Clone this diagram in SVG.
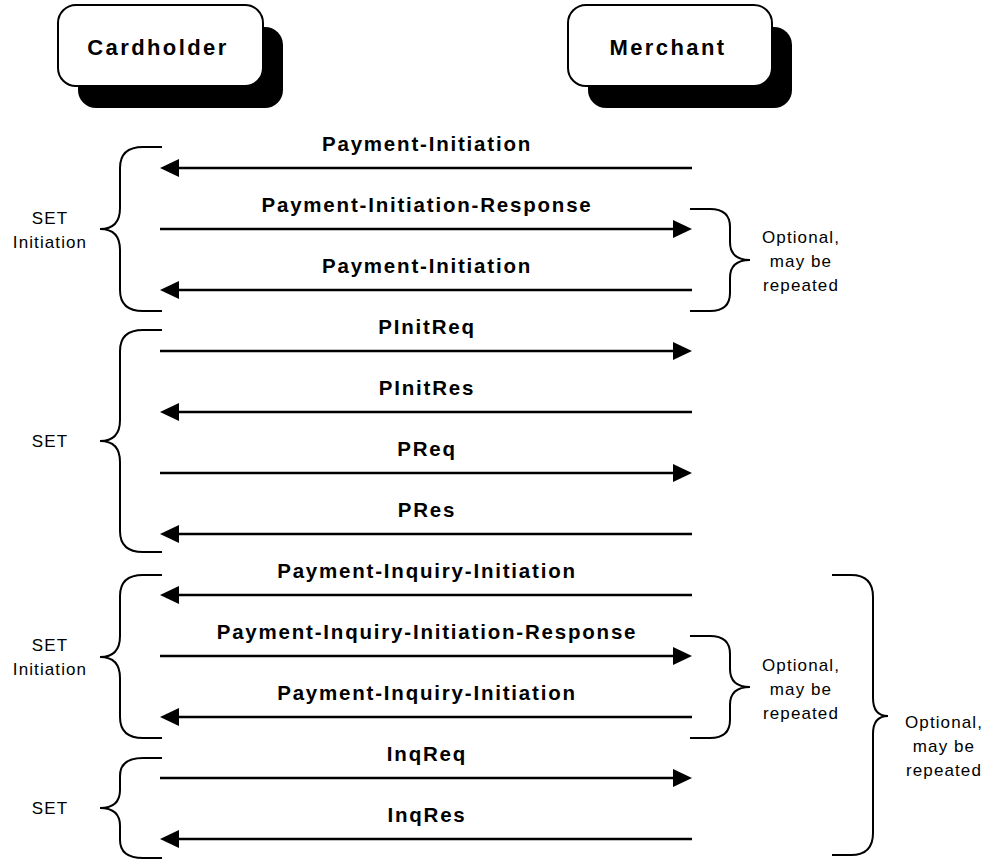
<svg xmlns="http://www.w3.org/2000/svg" width="989" height="861" viewBox="0 0 989 861">
  <style>
    .box { fill: #fff; stroke: #000; stroke-width: 2; }
    .shadow { fill: #000; }
    .actor { font-family: "Liberation Sans", Arial, sans-serif; font-weight: bold; font-size: 22px; letter-spacing: 2.4px; text-anchor: middle; fill: #000; }
    .msg { font-family: "Liberation Sans", Arial, sans-serif; font-weight: bold; font-size: 20.5px; letter-spacing: 1.8px; text-anchor: middle; fill: #000; }
    .note { font-family: "Liberation Sans", Arial, sans-serif; font-size: 17px; letter-spacing: 1.1px; text-anchor: middle; fill: #000; }
    .line { stroke: #000; stroke-width: 2.5; fill: none; marker-end: url(#head); }
    .brace { stroke: #000; stroke-width: 2; fill: none; }
  </style>
  <defs>
    <marker id="head" markerUnits="userSpaceOnUse" markerWidth="19" markerHeight="18" refX="9" refY="9" orient="auto">
      <path d="M0,0 L19,9 L0,18 Z" fill="#000"/>
    </marker>
  </defs>

  <rect width="989" height="861" fill="#fff"/>

  <!-- Participants -->
  <g id="cardholder">
    <rect class="shadow" x="78" y="27" width="205" height="81" rx="18"/>
    <rect class="box" x="58" y="5" width="205" height="81" rx="18"/>
    <text class="actor" x="158" y="55">Cardholder</text>
  </g>
  <g id="merchant">
    <rect class="shadow" x="588" y="27" width="204" height="81" rx="18"/>
    <rect class="box" x="568" y="5" width="204" height="81" rx="18"/>
    <text class="actor" x="668" y="55">Merchant</text>
  </g>

  <!-- Messages -->
  <g id="connectors">
    <line class="line" x1="692" y1="168" x2="170" y2="168"/>
    <line class="line" x1="160" y1="229" x2="682" y2="229"/>
    <line class="line" x1="692" y1="290" x2="170" y2="290"/>
    <line class="line" x1="160" y1="351" x2="682" y2="351"/>
    <line class="line" x1="692" y1="412" x2="170" y2="412"/>
    <line class="line" x1="160" y1="473" x2="682" y2="473"/>
    <line class="line" x1="692" y1="534" x2="170" y2="534"/>
    <line class="line" x1="692" y1="595" x2="170" y2="595"/>
    <line class="line" x1="160" y1="656" x2="682" y2="656"/>
    <line class="line" x1="692" y1="717" x2="170" y2="717"/>
    <line class="line" x1="160" y1="778" x2="682" y2="778"/>
    <line class="line" x1="692" y1="839" x2="170" y2="839"/>
  </g>

  <g id="message-labels">
    <text class="msg" x="427" y="151">Payment-Initiation</text>
    <text class="msg" x="427" y="212">Payment-Initiation-Response</text>
    <text class="msg" x="427" y="273">Payment-Initiation</text>
    <text class="msg" x="427" y="334">PInitReq</text>
    <text class="msg" x="427" y="395">PInitRes</text>
    <text class="msg" x="427" y="456">PReq</text>
    <text class="msg" x="427" y="517">PRes</text>
    <text class="msg" x="427" y="578">Payment-Inquiry-Initiation</text>
    <text class="msg" x="427" y="639">Payment-Inquiry-Initiation-Response</text>
    <text class="msg" x="427" y="700">Payment-Inquiry-Initiation</text>
    <text class="msg" x="427" y="761">InqReq</text>
    <text class="msg" x="427" y="822">InqRes</text>
  </g>

  <!-- Phase braces (left) -->
  <g id="phase-set-initiation-1">
    <path class="brace" d="M162,147 H143 Q120,147 120,168 V208 Q120,229 100,229 Q120,229 120,250 V290 Q120,311 143,311 H162"/>
    <text class="note" x="50" y="224">SET</text>
    <text class="note" x="50" y="248">Initiation</text>
  </g>
  <g id="phase-set-1">
    <path class="brace" d="M162,330 H143 Q120,330 120,351 V420 Q120,441 100,441 Q120,441 120,462 V531 Q120,552 143,552 H162"/>
    <text class="note" x="50" y="447">SET</text>
  </g>
  <g id="phase-set-initiation-2">
    <path class="brace" d="M162,575 H143 Q120,575 120,596 V636 Q120,657 100,657 Q120,657 120,678 V717 Q120,738 143,738 H162"/>
    <text class="note" x="50" y="651">SET</text>
    <text class="note" x="50" y="675">Initiation</text>
  </g>
  <g id="phase-set-2">
    <path class="brace" d="M162,758 H143 Q120,758 120,776 V790 Q120,808 100,808 Q120,808 120,826 V840 Q120,858 143,858 H162"/>
    <text class="note" x="50" y="814">SET</text>
  </g>

  <!-- Optional braces (right) -->
  <g id="optional-1">
    <path class="brace" d="M690,209 H710 Q730,209 730,227 V242 Q730,260 750,260 Q730,260 730,278 V293 Q730,311 710,311 H690"/>
    <text class="note" x="801" y="243">Optional,</text>
    <text class="note" x="801" y="267">may be</text>
    <text class="note" x="801" y="291">repeated</text>
  </g>
  <g id="optional-2">
    <path class="brace" d="M690,636 H710 Q730,636 730,654 V669 Q730,687 750,687 Q730,687 730,705 V720 Q730,738 710,738 H690"/>
    <text class="note" x="801" y="671">Optional,</text>
    <text class="note" x="801" y="695">may be</text>
    <text class="note" x="801" y="719">repeated</text>
  </g>
  <g id="optional-3">
    <path class="brace" d="M832,575 H851 Q873,575 873,597 V698 Q873,716 888,716 Q873,716 873,734 V833 Q873,855 851,855 H832"/>
    <text class="note" x="944" y="728">Optional,</text>
    <text class="note" x="944" y="752">may be</text>
    <text class="note" x="944" y="776">repeated</text>
  </g>
</svg>
